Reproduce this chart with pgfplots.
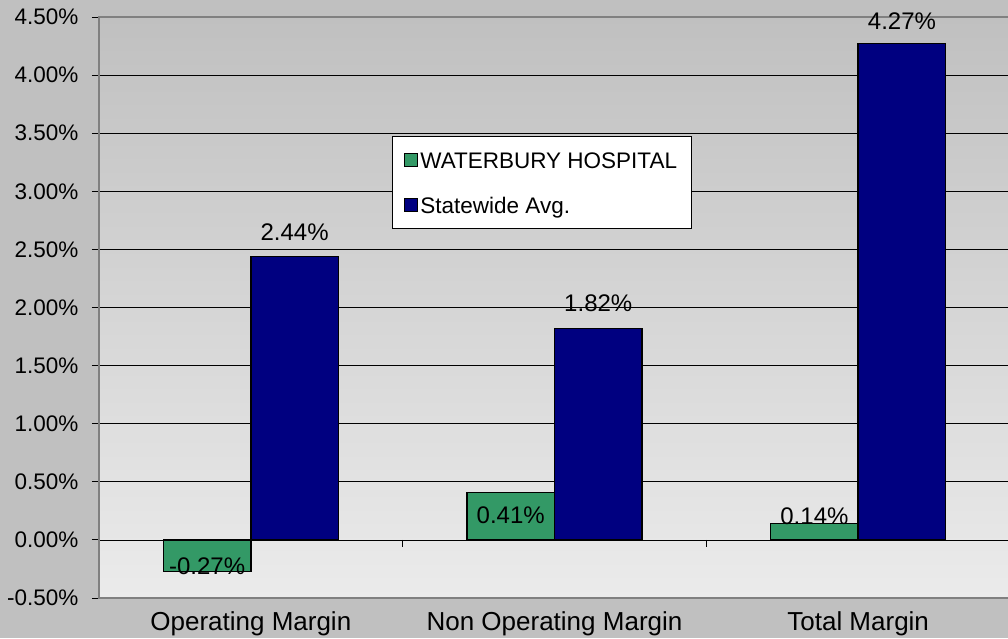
\documentclass[border=0pt]{standalone}
\usepackage{pgfplots}
\pgfplotsset{compat=1.18}
\usepackage{fontspec}
\setmainfont{Liberation Sans}
\definecolor{bggray}{HTML}{C0C0C0}
\definecolor{lightbg}{HTML}{EBEBEB}
\definecolor{bargreen}{HTML}{339966}
\definecolor{barnavy}{HTML}{000080}
\definecolor{bordergray}{HTML}{808080}
\begin{document}
\begin{tikzpicture}[x=1pt,y=1pt]
\fill[bggray] (0,0) rectangle (1008,638);
\begin{axis}[
  at={(99pt,40pt)}, anchor=south west,
  scale only axis, width=911pt, height=581pt,
  xmin=-0.5, xmax=2.5, ymin=-0.5, ymax=4.5,
  axis background/.style={top color=bggray, bottom color=lightbg},
  axis line style={draw=bordergray, line width=1.5pt},
  ybar, bar width=87.5pt,
  ytick={-0.5,0,0.5,1,1.5,2,2.5,3,3.5,4,4.5},
  ymajorgrids, grid style={black, line width=0.8pt},
  ytick pos=left, tick align=outside, major tick length=7pt,
  ytick style={draw=black, line width=1pt},
  /pgf/number format/assume math mode=true,
  yticklabel={\pgfmathprintnumber[fixed,fixed zerofill,precision=2]{\tick}\%},
  yticklabel style={font=\fontsize{22.5}{26}\selectfont, xshift=-10pt},
  xtick={0,1,2},
  xticklabels={Operating Margin, Non Operating Margin, Total Margin},
  xtick style={draw=none},
  xticklabel style={font=\fontsize{26}{30}\selectfont, yshift=-3pt},
  legend style={at={(0.3216,0.7952)}, anchor=north west, draw=black, fill=white,
    line width=0.8pt, font=\fontsize{22.5}{26}\selectfont,
    inner xsep=12pt, inner ysep=8pt, row sep=14pt,
    nodes={inner sep=2pt, text height=22pt, text depth=5pt}},
  legend cell align=left,
  legend image code/.code={\draw[#1,draw=black,line width=1pt] (0pt,-6.5pt) rectangle (13pt,6.5pt);},
]
\addplot[fill=bargreen, draw=black, line width=1.5pt, bar shift=-43.75pt]
  coordinates {(0,-0.27) (1,0.41) (2,0.14)};
\addlegendentry{WATERBURY HOSPITAL}
\addplot[fill=barnavy, draw=black, line width=1.5pt, bar shift=43.75pt]
  coordinates {(0,2.44) (1,1.82) (2,4.27)};
\addlegendentry{Statewide Avg.}
\draw[black, line width=1pt] (axis cs:0.5,0) -- ([yshift=-7pt]axis cs:0.5,0);
\draw[black, line width=1pt] (axis cs:1.5,0) -- ([yshift=-7pt]axis cs:1.5,0);
\coordinate (l1) at (axis cs:0,-0.224);
\coordinate (l2) at (axis cs:1,0.215);
\coordinate (l3) at (axis cs:2,0.207);
\coordinate (l4) at (axis cs:0,2.65);
\coordinate (l5) at (axis cs:1,2.035);
\coordinate (l6) at (axis cs:2,4.466);
\end{axis}
\begin{scope}[every node/.style={font=\fontsize{24}{28}\selectfont, inner sep=0pt}]
\node[xshift=-43.75pt] at (l1) {-0.27\%};
\node[xshift=-43.75pt] at (l2) {0.41\%};
\node[xshift=-43.75pt] at (l3) {0.14\%};
\node[xshift=43.75pt] at (l4) {2.44\%};
\node[xshift=43.75pt] at (l5) {1.82\%};
\node[xshift=43.75pt] at (l6) {4.27\%};
\end{scope}
\pgfresetboundingbox
\useasboundingbox (0,0) rectangle (1008,638);
\end{tikzpicture}
\end{document}
